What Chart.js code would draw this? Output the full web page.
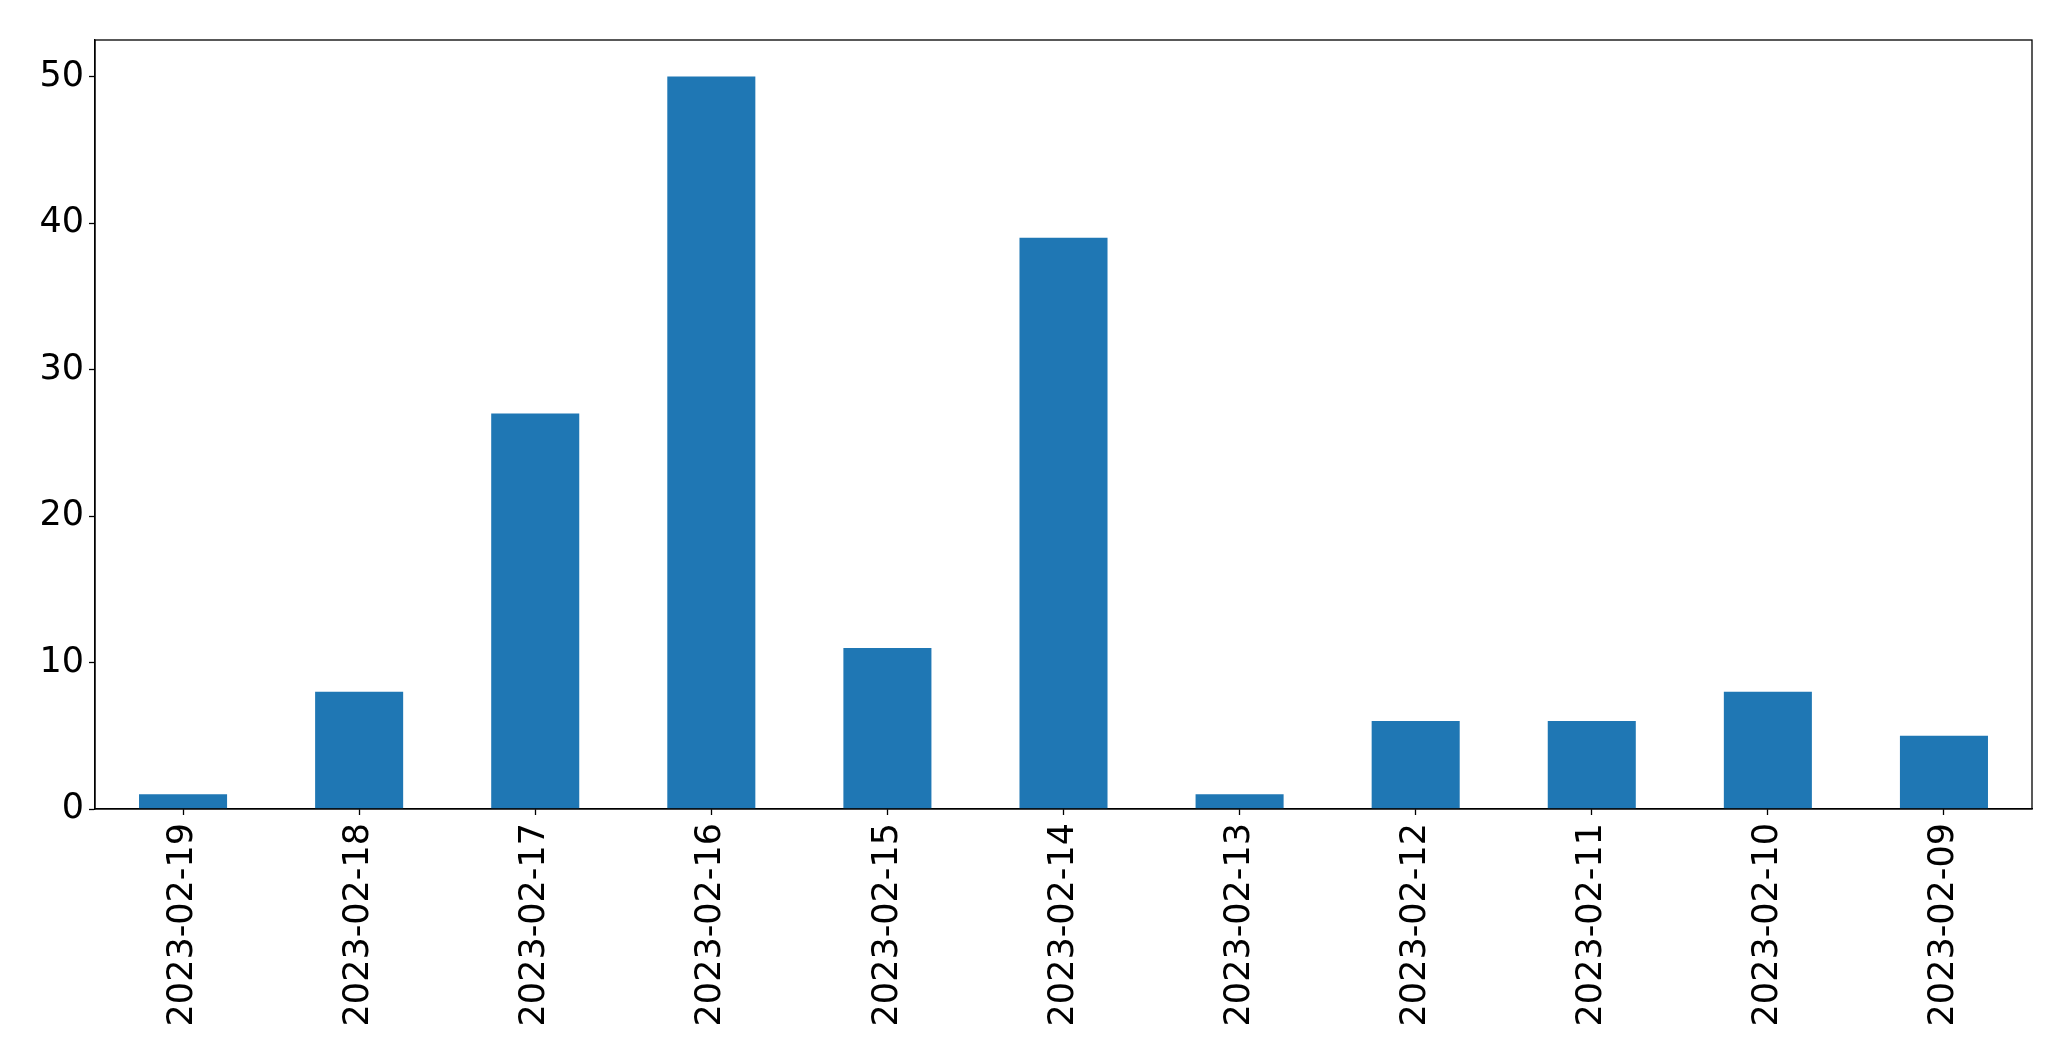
<!DOCTYPE html>
<html>
<head>
<meta charset="utf-8">
<script src="https://cdn.jsdelivr.net/npm/chart.js@4/dist/chart.umd.min.js"></script>
<style>
html,body{margin:0;padding:0;background:#fff;}
canvas{display:block;}
</style>
</head>
<body>
<canvas id="c" width="2071" height="1061"></canvas>
<script>
const categories = ["2023-02-19","2023-02-18","2023-02-17","2023-02-16","2023-02-15","2023-02-14","2023-02-13","2023-02-12","2023-02-11","2023-02-10","2023-02-09"];
const counts = [1, 8, 27, 50, 11, 39, 1, 6, 6, 8, 5];
const yTicks = [0, 10, 20, 30, 40, 50];
const yMax = 52.5;

const frame = {
  id: 'frame',
  afterDraw(chart) {
    const a = chart.chartArea, ctx = chart.ctx;
    ctx.save();
    ctx.strokeStyle = '#000';
    ctx.lineWidth = 1.3;
    ctx.strokeRect(a.left, a.top, a.right - a.left, a.bottom - a.top);
    ctx.restore();
  }
};

new Chart(document.getElementById('c'), {
  type: 'bar',
  data: {
    labels: categories,
    datasets: [{
      data: counts,
      backgroundColor: '#1f77b4',
      borderWidth: 0,
      barPercentage: 0.5,
      categoryPercentage: 1.0
    }]
  },
  options: {
    responsive: false,
    animation: false,
    devicePixelRatio: 1,
    layout: { padding: { left: 0, top: 40, right: 39, bottom: 0 } },
    plugins: { legend: { display: false }, tooltip: { enabled: false } },
    scales: {
      x: {
        offset: true,
        grid: { display: true, offset: false, drawOnChartArea: false, tickLength: 6, tickColor: '#000', tickWidth: 1.3 },
        border: { display: true, color: '#000', width: 1.3 },
        ticks: {
          color: '#000', font: { family: 'DejaVu Sans', size: 35 },
          maxRotation: 90, minRotation: 90, padding: 8, autoSkip: false
        },
        afterFit(s) { s.height = 252; }
      },
      y: {
        min: 0, max: yMax,
        grid: { display: true, drawOnChartArea: false, tickLength: 6, tickColor: '#000', tickWidth: 1.3 },
        border: { display: true, color: '#000', width: 1.3 },
        ticks: { color: '#000', font: { family: 'DejaVu Sans', size: 35 }, padding: 5 },
        afterBuildTicks(s) { s.ticks = yTicks.map(v => ({ value: v })); },
        afterFit(s) { s.width = 95; }
      }
    }
  },
  plugins: [frame]
});
</script>
</body>
</html>
